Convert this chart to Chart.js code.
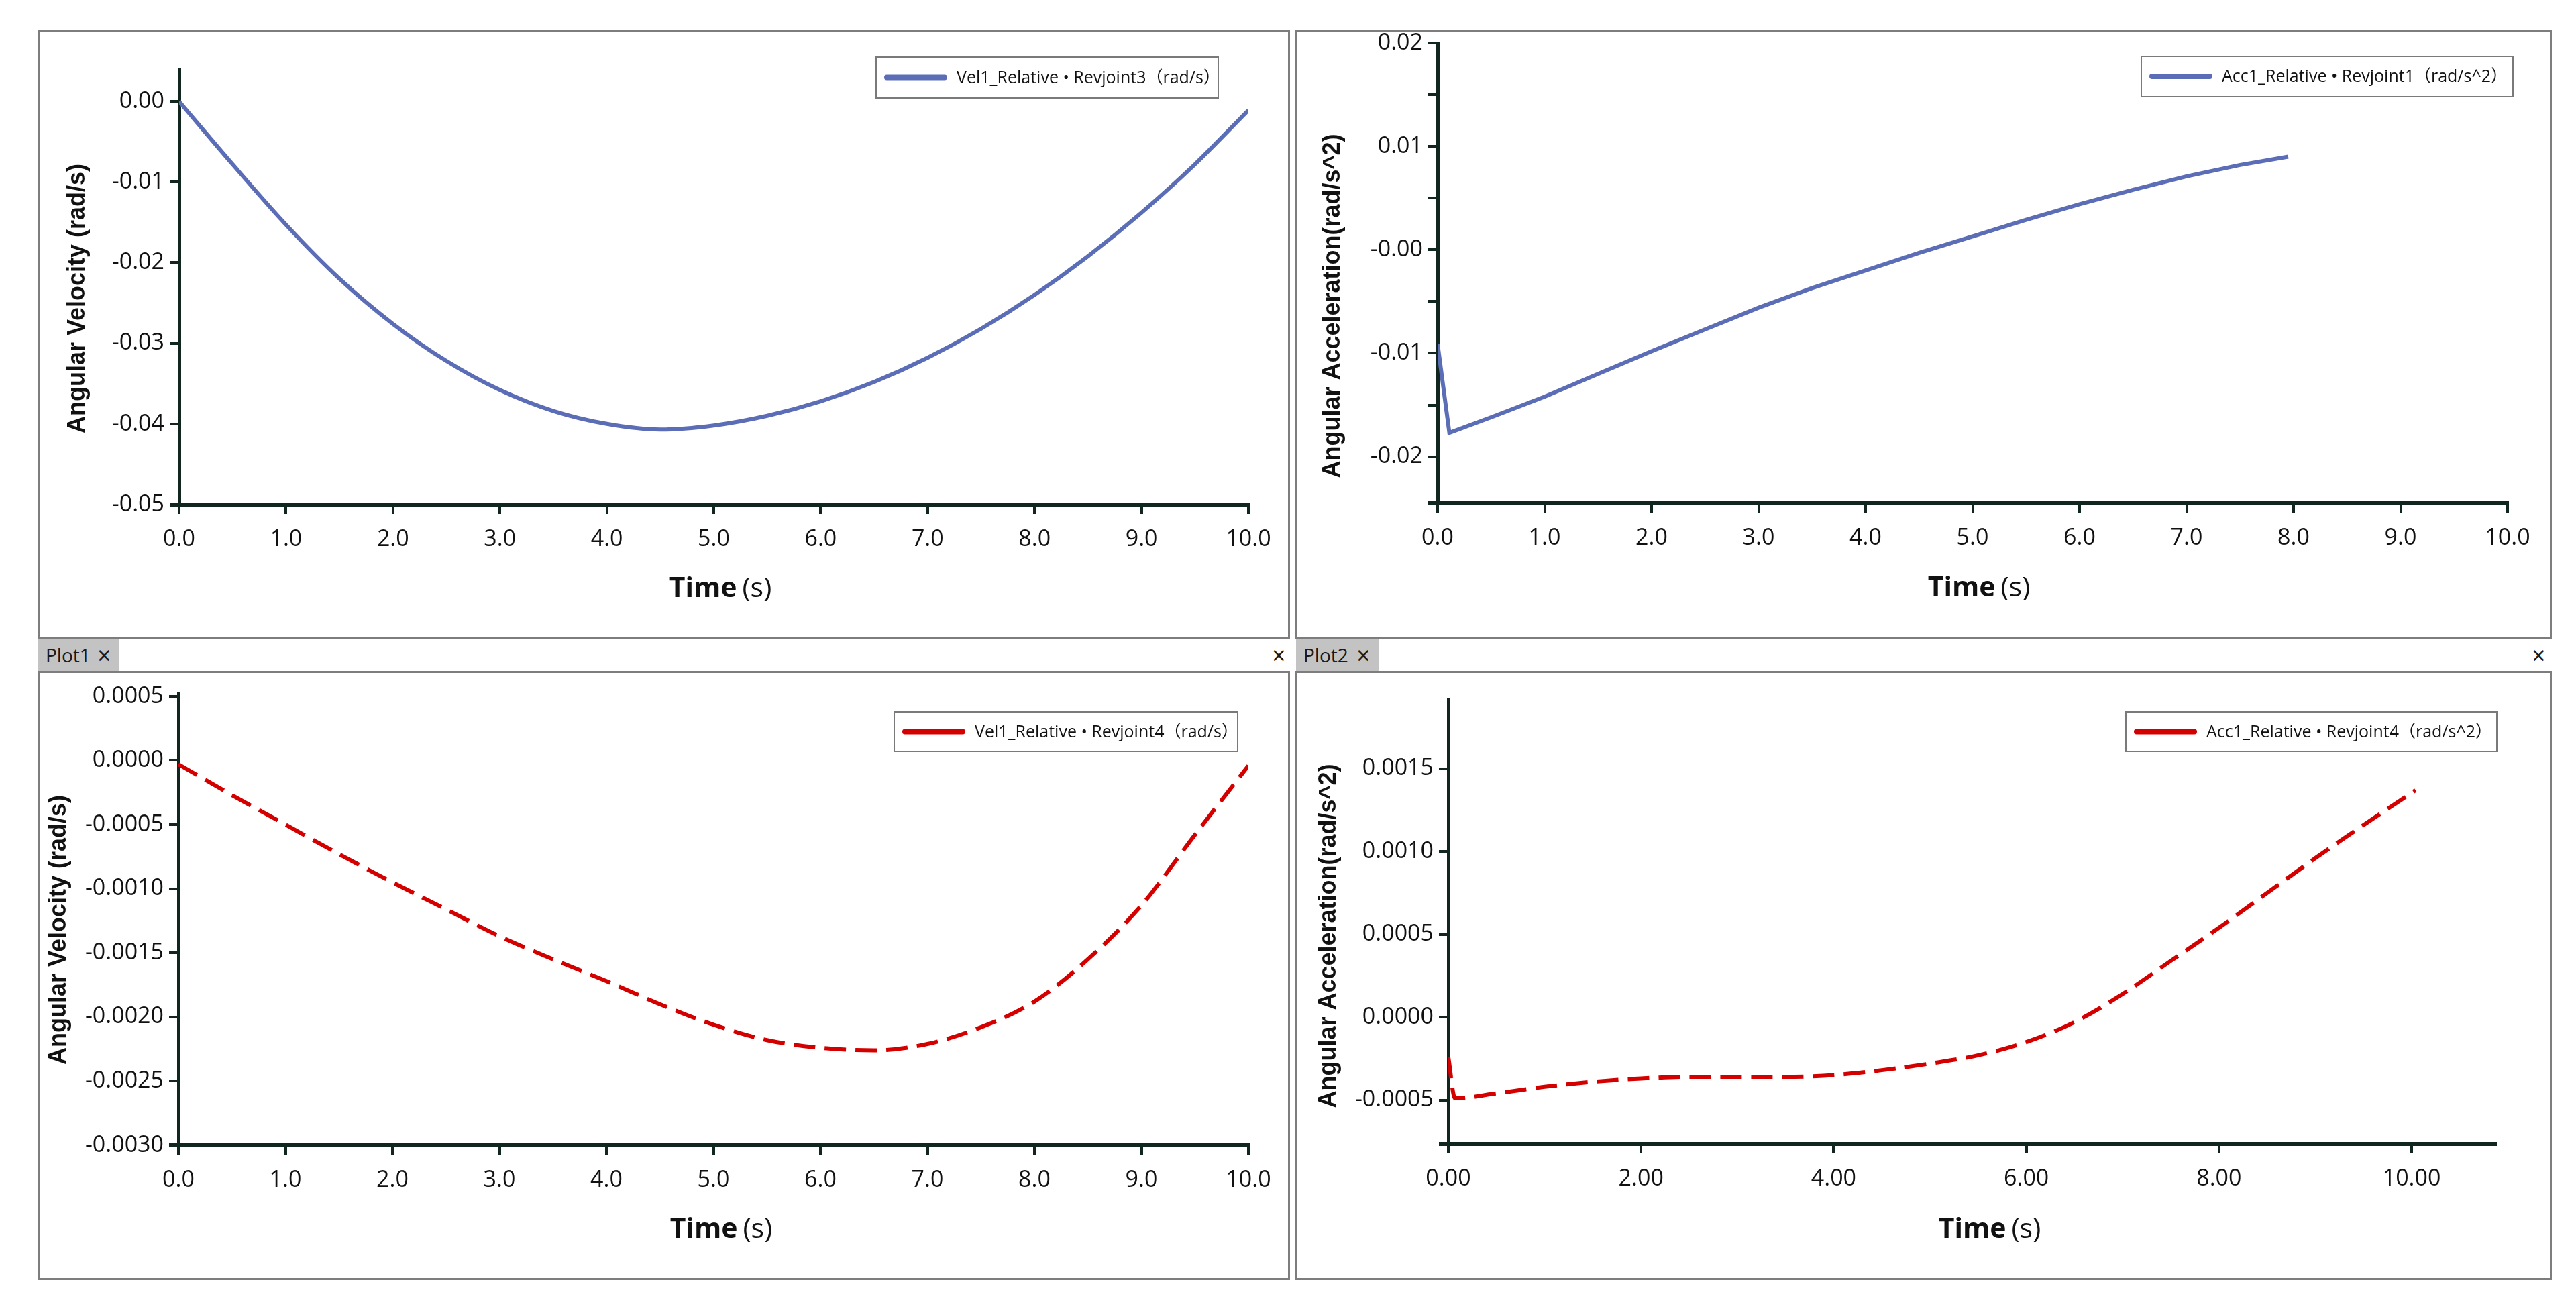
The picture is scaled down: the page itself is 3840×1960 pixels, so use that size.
<!DOCTYPE html>
<html>
<head>
<meta charset="utf-8">
<title>Revjoint plots</title>
<script src="https://cdn.jsdelivr.net/npm/chart.js@4.4.1/dist/chart.umd.min.js"></script>
<style>
  html, body { margin: 0; padding: 0; background: #fff; }
  body { width: 3840px; height: 1960px; position: relative; overflow: hidden; font-family: 'Open Sans', sans-serif; }
  .panel { position: absolute; box-sizing: border-box; border: 3px solid #7d7d7d; background: #fff; }
  .tab { position: absolute; top: 953px; height: 47px; background: #c3c3c3; color: #1a1a1a; font-size: 28px; line-height: 47px; }
  .tab .name { position: absolute; left: 11px; }
  .tab .x { position: absolute; font-size: 36px; }
  .close { position: absolute; top: 953px; height: 47px; line-height: 47px; font-size: 36px; color: #1a1a1a; }
  canvas { position: absolute; left: 0; top: 0; pointer-events: none; }
</style>
</head>
<body>
<div class="panel" style="left:56px; top:45px; width:1867px; height:908px;"></div>
<div class="panel" style="left:56px; top:1000px; width:1867px; height:908px;"></div>
<div class="panel" style="left:1931px; top:45px; width:1873px; height:908px;"></div>
<div class="panel" style="left:1931px; top:1000px; width:1873px; height:908px;"></div>

<div class="tab" style="left:57px; width:121px;"><span class="name">Plot1</span><span class="x" style="left:88px;">×</span></div>
<div class="close" style="left:1896px;">×</div>
<div class="tab" style="left:1932px; width:123px;"><span class="name">Plot2</span><span class="x" style="left:90px;">×</span></div>
<div class="close" style="left:3774px;">×</div>

<canvas id="velR3" width="3840" height="1960"></canvas>
<canvas id="accR1" width="3840" height="1960"></canvas>
<canvas id="velR4" width="3840" height="1960"></canvas>
<canvas id="accR4" width="3840" height="1960"></canvas>

<script>
// ---- values ----

// Vel1_Relative - Revjoint3 (rad/s)
const velR3Time = [0, 0.5, 1, 1.5, 2, 2.5, 3, 3.5, 4, 4.5, 5, 5.5, 6, 6.5, 7, 7.5, 8, 8.5, 9, 9.5, 10];
const velR3 = [0, -0.0078, -0.0153, -0.0220, -0.0276, -0.0322, -0.0358, -0.0384, -0.0400, -0.0407, -0.0402,
  -0.0390, -0.0372, -0.0348, -0.0318, -0.0282, -0.0240, -0.0192, -0.0138, -0.0078, -0.0011];

// Acc1_Relative - Revjoint1 (rad/s^2)
const accR1Time = [0, 0.11, 0.5, 1, 1.5, 2, 2.5, 3, 3.5, 4, 4.5, 5, 5.5, 6, 6.5, 7, 7.5, 7.95];
const accR1 = [-0.0091, -0.0177, -0.0162, -0.0142, -0.0120, -0.0098, -0.0077, -0.0056, -0.0037, -0.0020,
  -0.0003, 0.0013, 0.0029, 0.0044, 0.0058, 0.0071, 0.0082, 0.0090];

// Vel1_Relative - Revjoint4 (rad/s)
const velR4Time = [0, 0.5, 1, 1.5, 2, 2.5, 3, 3.5, 4, 4.5, 5, 5.5, 6, 6.5, 7, 7.5, 8, 8.5, 9, 9.5, 10];
const velR4 = [-0.00003, -0.00027, -0.00050, -0.00073, -0.00095, -0.00116, -0.00137, -0.00155, -0.00172,
  -0.00190, -0.00206, -0.00218, -0.00224, -0.00226, -0.00221, -0.00208, -0.00188, -0.00155, -0.00113,
  -0.00058, -0.00004];

// Acc1_Relative - Revjoint4 (rad/s^2)
const accR4Time = [0, 0.07, 0.5, 1, 1.5, 2, 2.5, 3, 3.5, 4, 4.5, 5, 5.5, 6, 6.5, 7, 7.5, 8, 8.5, 9, 9.5, 10.04];
const accR4 = [-0.00024, -0.00049, -0.00046, -0.00042, -0.00039, -0.00037, -0.00036, -0.00036, -0.00036,
  -0.00035, -0.00032, -0.00028, -0.00023, -0.00015, -0.00003, 0.00014, 0.00034, 0.00054, 0.00075,
  0.00096, 0.00116, 0.00137];

// tick values and their printed labels
const timeTicks = [0, 1, 2, 3, 4, 5, 6, 7, 8, 9, 10];
const timeLabels = ['0.0', '1.0', '2.0', '3.0', '4.0', '5.0', '6.0', '7.0', '8.0', '9.0', '10.0'];
const timeTicks2 = [0, 2, 4, 6, 8, 10];
const timeLabels2 = ['0.00', '2.00', '4.00', '6.00', '8.00', '10.00'];

const velR3Ticks = [-0.05, -0.04, -0.03, -0.02, -0.01, 0];
const velR3Labels = ['-0.05', '-0.04', '-0.03', '-0.02', '-0.01', '0.00'];
const accR1Ticks = [-0.02, -0.015, -0.01, -0.005, 0, 0.005, 0.01, 0.015, 0.02];
const accR1Labels = ['-0.02', '', '-0.01', '', '-0.00', '', '0.01', '', '0.02'];
const velR4Ticks = [-0.003, -0.0025, -0.002, -0.0015, -0.001, -0.0005, 0, 0.0005];
const velR4Labels = ['-0.0030', '-0.0025', '-0.0020', '-0.0015', '-0.0010', '-0.0005', '0.0000', '0.0005'];
const accR4Ticks = [-0.0005, 0, 0.0005, 0.001, 0.0015];
const accR4Labels = ['-0.0005', '0.0000', '0.0005', '0.0010', '0.0015'];

// ---- styling ----
const AXIS_COLOR = '#10261f';
const BLUE = '#5b6db6';
const RED = '#d40000';
const TICK_FONT = { family: "'Open Sans', sans-serif", size: 34 };
const X_BOX = 120;  // fixed height of the time axis box
const Y_BOX = 220;  // fixed width of the value axis box (wide enough so labels are not clipped)

// Axis titles, legend box and the little axis stub are drawn here
const panelDecor = {
  id: 'panelDecor',
  afterDraw(chart, args, opts) {
    const ctx = chart.ctx;
    const area = chart.chartArea;
    const ds = chart.data.datasets[0];
    ctx.save();

    // time axis runs a little past the value axis
    ctx.strokeStyle = AXIS_COLOR;
    ctx.lineWidth = 6;
    ctx.beginPath();
    ctx.moveTo(area.left - 14, area.bottom);
    ctx.lineTo(area.left, area.bottom);
    ctx.stroke();

    // value axis title
    ctx.save();
    ctx.fillStyle = '#111';
    ctx.font = "bold 36px 'Liberation Sans', Arial, sans-serif";
    ctx.textAlign = 'center';
    ctx.textBaseline = 'middle';
    ctx.translate(opts.yTitleX, opts.yTitleY);
    ctx.rotate(-Math.PI / 2);
    ctx.fillText(opts.yTitle, 0, 0);
    ctx.restore();

    // "Time (s)" with bold word and plain unit
    ctx.fillStyle = '#111';
    ctx.textAlign = 'left';
    ctx.textBaseline = 'alphabetic';
    const boldFont = "bold 41px 'Open Sans', sans-serif";
    const plainFont = "41px 'Open Sans', sans-serif";
    ctx.font = boldFont;
    const w1 = ctx.measureText('Time').width;
    ctx.font = plainFont;
    const w2 = ctx.measureText('(s)').width;
    const gap = 8;
    const tx = opts.xTitleX - (w1 + gap + w2) / 2;
    const base = opts.xTitleY + 15;
    ctx.font = boldFont;
    ctx.fillText('Time', tx, base);
    ctx.font = plainFont;
    ctx.fillText('(s)', tx + w1 + gap, base);

    // legend box
    const lg = opts.legend;
    ctx.fillStyle = '#fff';
    ctx.fillRect(lg.x, lg.y, lg.w, lg.h);
    ctx.strokeStyle = '#7a7a7a';
    ctx.lineWidth = 2;
    ctx.strokeRect(lg.x, lg.y, lg.w, lg.h);
    const midY = lg.y + lg.h / 2;
    ctx.strokeStyle = ds.borderColor;
    ctx.lineWidth = 8;
    ctx.lineCap = 'round';
    ctx.setLineDash([]);
    ctx.beginPath();
    ctx.moveTo(lg.x + 16, midY);
    ctx.lineTo(lg.x + 102, midY);
    ctx.stroke();
    ctx.fillStyle = '#111';
    ctx.font = "25px 'Open Sans', 'Noto Sans CJK SC', sans-serif";
    ctx.textBaseline = 'middle';
    ctx.fillText(ds.label, lg.x + 120, midY + 1);

    ctx.restore();
  }
};

function buildChart(id, spec) {
  const area = spec.area;
  return new Chart(document.getElementById(id), {
    type: 'line',
    data: {
      datasets: [{
        label: spec.label,
        data: spec.time.map((t, i) => ({ x: t, y: spec.values[i] })),
        borderColor: spec.color,
        borderWidth: 6,
        borderDash: spec.dash || [],
        borderCapStyle: 'butt',
        pointRadius: 0,
        fill: false,
        cubicInterpolationMode: spec.smooth ? 'monotone' : 'default',
        tension: 0
      }]
    },
    options: {
      responsive: false,
      animation: false,
      devicePixelRatio: 1,
      events: [],
      layout: {
        padding: {
          left: area.left - Y_BOX,
          top: area.top,
          right: 3840 - area.right,
          bottom: 1960 - area.bottom - X_BOX
        }
      },
      plugins: {
        legend: { display: false },
        tooltip: { enabled: false },
        panelDecor: spec.decor
      },
      scales: {
        x: {
          type: 'linear',
          min: spec.xMin,
          max: spec.xMax,
          afterBuildTicks: s => { s.ticks = spec.xTicks.map(v => ({ value: v })); },
          afterFit: s => { s.height = X_BOX; s.paddingLeft = 0; s.paddingRight = 0; },
          ticks: {
            autoSkip: false, maxRotation: 0, minRotation: 0,
            padding: 18, color: '#111', font: TICK_FONT,
            callback: (v, i) => spec.xLabels[i]
          },
          grid: { drawOnChartArea: false, drawTicks: true, tickLength: 14, color: AXIS_COLOR, lineWidth: 4 },
          border: { display: true, color: AXIS_COLOR, width: 6 }
        },
        y: {
          type: 'linear',
          min: spec.yMin,
          max: spec.yMax,
          afterBuildTicks: s => { s.ticks = spec.yTicks.map(v => ({ value: v })); },
          afterFit: s => { s.width = Y_BOX; s.paddingTop = 0; s.paddingBottom = 0; },
          ticks: {
            autoSkip: false, padding: 8, color: '#111', font: TICK_FONT,
            callback: (v, i) => spec.yLabels[i]
          },
          grid: { drawOnChartArea: false, drawTicks: true, tickLength: 14, color: AXIS_COLOR, lineWidth: 4 },
          border: { display: true, color: AXIS_COLOR, width: 5 }
        }
      }
    },
    plugins: [panelDecor]
  });
}

buildChart('velR3', {
  label: 'Vel1_Relative • Revjoint3（rad/s）',
  time: velR3Time, values: velR3, color: BLUE, smooth: true,
  area: { left: 267, right: 1861, top: 103, bottom: 752 },
  xMin: 0, xMax: 10, xTicks: timeTicks, xLabels: timeLabels,
  yMin: -0.05, yMax: 0.004, yTicks: velR3Ticks, yLabels: velR3Labels,
  decor: {
    yTitle: 'Angular Velocity (rad/s)', yTitleX: 116, yTitleY: 445,
    xTitleX: 1074, xTitleY: 875,
    legend: { x: 1306, y: 85, w: 510, h: 61 }
  }
});

buildChart('accR1', {
  label: 'Acc1_Relative • Revjoint1（rad/s^2）',
  time: accR1Time, values: accR1, color: BLUE, smooth: false,
  area: { left: 2143, right: 3738, top: 64, bottom: 750 },
  xMin: 0, xMax: 10, xTicks: timeTicks, xLabels: timeLabels,
  yMin: -0.0245, yMax: 0.02, yTicks: accR1Ticks, yLabels: accR1Labels,
  decor: {
    yTitle: 'Angular Acceleration(rad/s^2)', yTitleX: 1987, yTitleY: 456,
    xTitleX: 2950, xTitleY: 874,
    legend: { x: 3192, y: 84, w: 554, h: 60 }
  }
});

buildChart('velR4', {
  label: 'Vel1_Relative • Revjoint4（rad/s）',
  time: velR4Time, values: velR4, color: RED, smooth: true, dash: [32, 14],
  area: { left: 266, right: 1861, top: 1034, bottom: 1707 },
  xMin: 0, xMax: 10, xTicks: timeTicks, xLabels: timeLabels,
  yMin: -0.003, yMax: 0.00052, yTicks: velR4Ticks, yLabels: velR4Labels,
  decor: {
    yTitle: 'Angular Velocity (rad/s)', yTitleX: 88, yTitleY: 1386,
    xTitleX: 1075, xTitleY: 1830,
    legend: { x: 1333, y: 1061, w: 512, h: 59 }
  }
});

buildChart('accR4', {
  label: 'Acc1_Relative • Revjoint4（rad/s^2）',
  time: accR4Time, values: accR4, color: RED, smooth: true, dash: [32, 14],
  area: { left: 2159, right: 3720, top: 1042, bottom: 1705 },
  xMin: 0, xMax: 10.87, xTicks: timeTicks2, xLabels: timeLabels2,
  yMin: -0.000765, yMax: 0.00192, yTicks: accR4Ticks, yLabels: accR4Labels,
  decor: {
    yTitle: 'Angular Acceleration(rad/s^2)', yTitleX: 1981, yTitleY: 1395,
    xTitleX: 2966, xTitleY: 1830,
    legend: { x: 3169, y: 1061, w: 553, h: 59 }
  }
});
</script>
</body>
</html>
